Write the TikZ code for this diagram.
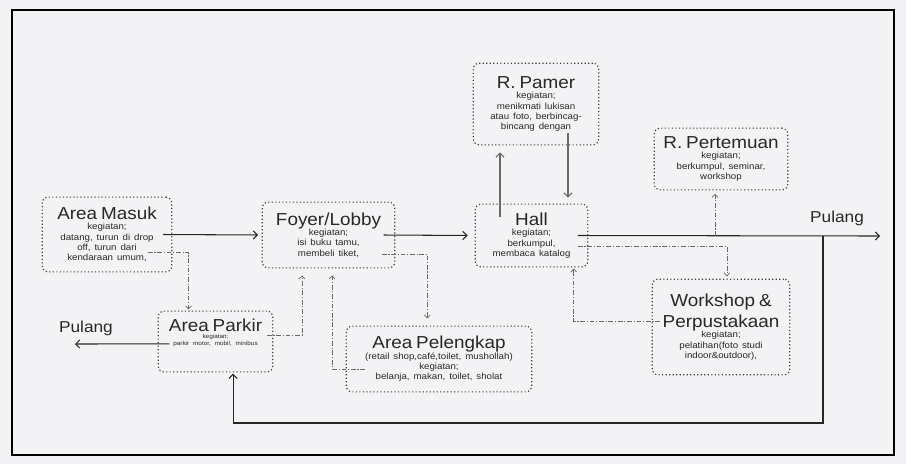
\documentclass[tikz,border=0pt]{standalone}
\usepackage{fontspec}
\setmainfont{Liberation Sans}[FakeStretch=1.09]
\usetikzlibrary{arrows.meta}

\definecolor{latar}{RGB}{243,242,244}
\definecolor{garis}{RGB}{60,60,60}
\definecolor{teks}{RGB}{40,40,40}
\definecolor{abu}{RGB}{105,105,105}

\newcommand{\judul}[1]{{\fontsize{14.8}{18}\selectfont #1\par}}
\newcommand{\isi}{\fontsize{7.6}{8.8}\selectfont}

\begin{document}
\begin{tikzpicture}[x=0.03cm, y=-0.03cm,
    ruang/.style={draw=garis, dotted, line width=1pt, rounded corners=5pt,
      align=center, text=teks, inner sep=1pt},
    alur/.style={-{Straight Barb[length=3.5pt,width=7pt]}, line width=0.9pt, draw=black!85},
    balik/.style={-{Straight Barb[length=3.5pt,width=7pt]}, line width=0.9pt, draw=abu},
    cabang/.style={-{Straight Barb[length=2.5pt,width=5pt]}, line width=0.6pt, draw=abu,
      dash pattern=on 4pt off 1.5pt on 1pt off 1.5pt}]
  \useasboundingbox (0,0) rectangle (906,464);
  \fill[latar] (0,0) rectangle (906,464);
  \draw[line width=1.3pt] (12,10) rectangle (894,455);

  % Ruang
  \node[ruang, minimum width=110.6pt, minimum height=63.8pt, text width=106pt] (masuk) at (107,234.5)
    {\judul{Area Masuk}\isi kegiatan;\\datang, turun di drop\\off, turun dari\\kendaraan umum,\par};
  \node[ruang, minimum width=113.1pt, minimum height=56.1pt, text width=109pt] (foyer) at (328.5,235)
    {\judul{Foyer/Lobby}\isi kegiatan;\\isi buku tamu,\\membeli tiket,\par};
  \node[ruang, minimum width=96.1pt, minimum height=53.6pt, text width=92pt] (hall) at (531.5,235.5)
    {\judul{Hall}\isi kegiatan;\\berkumpul,\\membaca katalog\par};
  \node[ruang, minimum width=107pt, minimum height=69.7pt, text width=103pt] (pamer) at (536,104)
    {\judul{R. Pamer}\isi kegiatan;\\menikmati lukisan\\atau foto, berbincag-\\bincang dengan\par};
  \node[ruang, minimum width=114pt, minimum height=52.7pt, text width=110pt] (pertemuan) at (721,159)
    {\judul{R. Pertemuan}\isi kegiatan;\\berkumpul, seminar,\\workshop\par};
  \node[ruang, minimum width=117.4pt, minimum height=81.6pt, text width=113pt] (workshop) at (721,327)
    {\judul{Workshop \&\\Perpustakaan}\isi kegiatan;\\pelatihan(foto studi\\indoor\&outdoor),\par};
  \node[ruang, minimum width=97.8pt, minimum height=51.9pt, text width=94pt] (parkir) at (215.5,341.5)
    {\judul{Area Parkir}\fontsize{5}{6}\selectfont kegiatan;\\parkir motor, mobil, minibus\rule[-16pt]{0pt}{16pt}\par};
  \node[ruang, minimum width=158.2pt, minimum height=56.1pt, text width=154pt] (pelengkap) at (439,359)
    {\judul{Area Pelengkap}\isi (retail shop,café,toilet, mushollah)\\kegiatan;\\belanja, makan, toilet, sholat\par};

  % Pulang
  \node[text=teks, font=\fontsize{13.5}{15}\selectfont] (pulangA) at (837,218) {Pulang};
  \node[text=teks, font=\fontsize{13.5}{15}\selectfont] (pulangB) at (86,328) {Pulang};
  \coordinate (ujungA) at (880,236);
  \coordinate (ujungB) at (75,344);
  \coordinate (belok) at (823,236);

  % Alur utama
  \draw[alur, shorten >=3pt] ([xshift=-8pt]masuk.east) -- (foyer.west);
  \draw[alur, shorten >=6pt] ([xshift=-10pt]foyer.east) -- (hall.west);
  \draw[alur] ([xshift=-9pt]hall.east) -- (ujungA);
  \draw[alur, shorten >=1pt] (belok) -- ++(0,187) -| ([xshift=15pt]parkir.south);
  \draw[alur] ([xshift=10pt,yshift=-2pt]parkir.west) -- (ujungB);

  % Hall - R. Pamer
  \coordinate (naik) at (500,217);
  \coordinate (turun) at (568,133);
  \draw[balik, shorten >=6pt] (naik) -- (naik |- pamer.south);
  \draw[balik, shorten >=5pt] (turun) -- (turun |- hall.north);

  % Alur cabang
  \coordinate (c1) at (148,252);
  \coordinate (c2) at (267,335);
  \coordinate (c3) at (365,369);
  \coordinate (c4) at (382,254);
  \coordinate (c5) at (578,246);
  \coordinate (c6) at (660,321);
  \coordinate (c7) at (715,236);
  \draw[cabang, shorten >=1pt] (c1) -| ([xshift=-23pt]parkir.north);
  \draw[cabang, shorten >=6pt] (c2) -| ([xshift=-22.5pt]foyer.south);
  \draw[cabang, shorten >=6pt] (c3) -| ([xshift=3pt]foyer.south);
  \draw[cabang, shorten >=6pt] (c4) -| ([xshift=-10pt]pelengkap.north);
  \draw[cabang, shorten >=2pt] (c5) -| ([xshift=5pt]workshop.north);
  \draw[cabang, shorten >=1pt] (c6) -| ([xshift=36pt]hall.south);
  \draw[cabang, shorten >=3pt] (c7) -- (c7 |- pertemuan.south);
\end{tikzpicture}
\end{document}
